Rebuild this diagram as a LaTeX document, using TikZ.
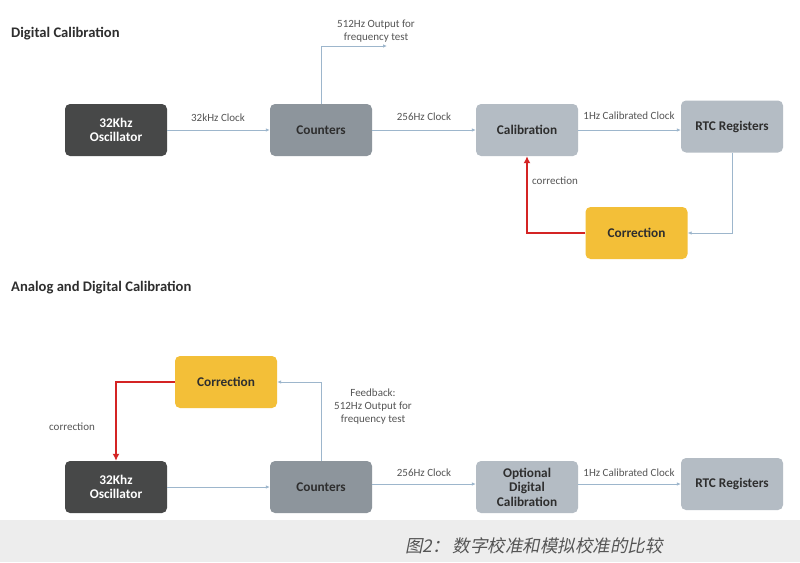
\documentclass[tikz,border=0pt]{standalone}
\usepackage{fontspec}
\setmainfont{Carlito}
\newfontfamily\cjk[FakeSlant=0.2]{Noto Sans CJK SC}
\usetikzlibrary{arrows.meta}
\definecolor{darkbox}{HTML}{474848}
\definecolor{midbox}{HTML}{8D959C}
\definecolor{lightbox}{HTML}{B4BCC4}
\definecolor{yellowbox}{HTML}{F3BF38}
\definecolor{wire}{HTML}{9DB6CC}
\definecolor{redwire}{HTML}{D42424}
\definecolor{labtext}{HTML}{555555}
\definecolor{boxtext}{HTML}{2E2E2E}
\definecolor{band}{HTML}{EDEDED}
\tikzset{
  blk/.style={rounded corners=5pt, minimum width=102pt, minimum height=52pt, inner sep=2pt, align=center, font=\fontsize{13.3}{14.5}\selectfont\bfseries, text=boxtext},
  oscbox/.style={blk, fill=darkbox, text=white},
  cntbox/.style={blk, fill=midbox},
  calbox/.style={blk, fill=lightbox},
  corbox/.style={blk, fill=yellowbox},
  flow/.style={draw=wire, line width=0.9pt, -{Latex[length=4pt,width=3.5pt]}},
  redflow/.style={draw=redwire, line width=2.4pt, -{Latex[length=7pt,width=7pt]}},
  lab/.style={font=\fontsize{11}{13}\selectfont, text=labtext, align=center, inner sep=0pt},
  ttl/.style={font=\fontsize{14.6}{16}\selectfont\bfseries, text=boxtext, anchor=west, inner sep=0pt}
}
\begin{document}
\begin{tikzpicture}[x=1pt,y=-1pt]
\useasboundingbox (0,0) rectangle (800,562);
\fill[white] (0,0) rectangle (800,562);
\fill[band] (0,520) rectangle (800,562);
% top section
\node[ttl] (t1) at (11,34) {Digital Calibration};
\node[oscbox] (osc) at (116,130) {32Khz\\Oscillator};
\node[cntbox] (cnt) at (321,130) {Counters};
\node[calbox] (cal) at (527,130) {Calibration};
\node[calbox] (rtc) at (732,126.5) {RTC Registers};
\node[corbox] (cor) at (636.5,233) {Correction};
\coordinate (o512) at (387,46);
\draw[flow] (osc.east) -- (cnt.west);
\draw[flow] (cnt.east) -- (cal.west);
\draw[flow] (cal.east) -- (rtc.west |- cal.east);
\draw[flow] (cnt.north) |- (o512);
\draw[flow] (rtc.south) |- (cor.east);
\draw[redflow] (cor.west) -| (cal.south);
\node[lab] (l1) at (218,118) {32kHz Clock};
\node[lab] (l2) at (424,117) {256Hz Clock};
\node[lab] (l3) at (629,116) {1Hz Calibrated Clock};
\node[lab] (l4) at (376,31) {512Hz Output for\\frequency test};
\node[lab] (l5) at (555,181) {correction};
% bottom section
\node[ttl] (t2) at (11,288) {Analog and Digital Calibration};
\node[corbox] (cor2) at (226,382) {Correction};
\node[oscbox] (osc2) at (116,487) {32Khz\\Oscillator};
\node[cntbox] (cnt2) at (321,487) {Counters};
\node[calbox] (opt) at (527,487) {Optional\\Digital\\Calibration};
\node[calbox] (rtc2) at (732,484) {RTC Registers};
\draw[flow] (osc2.east) -- (cnt2.west);
\draw[flow] (cnt2.east |- 0,484) -- (opt.west |- 0,484);
\draw[flow] (opt.east |- 0,484) -- (rtc2.west);
\draw[flow] (cnt2.north) |- (cor2.east);
\draw[redflow] (cor2.west) -| (osc2.north);
\node[lab] (l6) at (424,473) {256Hz Clock};
\node[lab] (l7) at (629,473) {1Hz Calibrated Clock};
\node[lab] (l8) at (373,407) {Feedback:\\512Hz Output for\\frequency test};
\node[lab] (l9) at (72,427) {correction};
% caption
\node[anchor=west, inner sep=0pt, text=labtext, font=\cjk\fontsize{17.5}{19}\selectfont] (cap) at (405,546) {图2：\,数字校准和模拟校准的比较};
\end{tikzpicture}
\end{document}
